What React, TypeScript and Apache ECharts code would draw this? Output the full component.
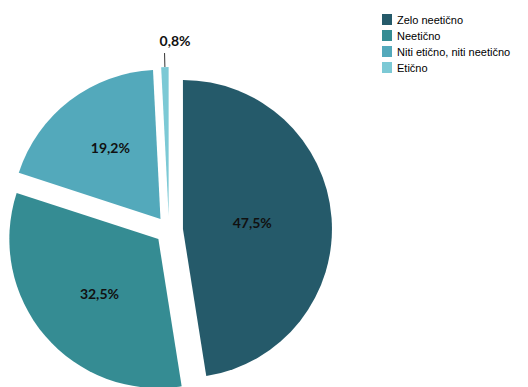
import React, { useEffect, useRef } from "react";
import * as echarts from "echarts";

const categories = ["Zelo neetično", "Neetično", "Niti etično, niti neetično", "Etično"];
const values = [47.5, 32.5, 19.2, 0.8];
const colors = ["#255a6a", "#358c93", "#53a9bb", "#7cc9d5"];
// small nudges of the inside labels (pixels)
const labelNudges = [
  [-8, 0],
  [0, 4],
  [-3, -10],
];

export default function App() {
  const ref = useRef<HTMLDivElement>(null);
  useEffect(() => {
    if (!ref.current) return;
    const chart = echarts.init(ref.current, null, { renderer: "svg" });
    const fmt = (v: number) => `${v.toFixed(1).replace(".", ",")}%`;
    chart.setOption({
      animation: false,
      backgroundColor: "#ffffff",
      legend: {
        orient: "vertical",
        left: 382,
        top: 14,
        padding: 0,
        itemWidth: 10,
        itemHeight: 11,
        itemGap: 5,
        icon: "rect",
        selectedMode: false,
        textStyle: { fontFamily: "Liberation Sans", fontSize: 11, color: "#000" },
        data: categories,
      },
      series: [
        {
          type: "pie",
          center: [169, 230],
          radius: 149,
          startAngle: 90,
          clockwise: true,
          selectedMode: "multiple",
          selectedOffset: 14,
          avoidLabelOverlap: false,
          label: {
            show: true,
            position: "inside",
            formatter: (p: any) => fmt(p.value),
            fontFamily: "Lato",
            fontWeight: "bold",
            fontSize: 14,
            color: "#111",
          },
          labelLine: { show: false },
          labelLayout: (p: any) => {
            const n = labelNudges[p.dataIndex];
            return n ? { dx: n[0], dy: n[1] } : {};
          },
          emphasis: { disabled: true },
          data: values.map((v, i) => ({
            value: v,
            name: categories[i],
            selected: true,
            itemStyle: { color: colors[i] },
            ...(i === 3
              ? {
                  label: {
                    position: "outside",
                    distanceToLabelLine: -26,
                    formatter: (p: any) => `${fmt(p.value)}\n `,
                    lineHeight: 26,
                  },
                  labelLine: { show: true, length: 14, length2: 0, lineStyle: { color: "#333", width: 1 } },
                }
              : {}),
          })),
        },
      ],
    });
    return () => chart.dispose();
  }, []);
  return (
    <div
      ref={ref}
      style={{ position: "absolute", left: 0, top: 0, width: 528, height: 387 }}
    />
  );
}
